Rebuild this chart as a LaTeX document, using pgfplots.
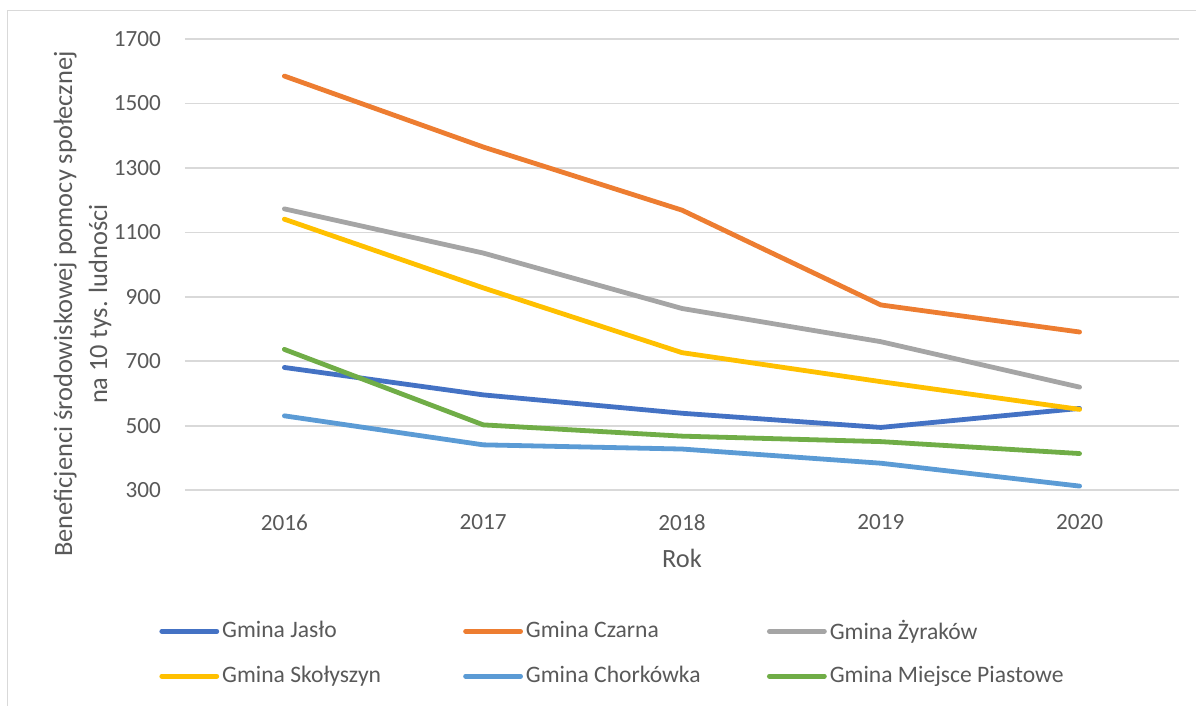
\documentclass[border=0pt]{standalone}
\usepackage{pgfplots}
\pgfplotsset{compat=1.18}
\usepackage{fontspec}
\setmainfont{Carlito}
\definecolor{cJaslo}{HTML}{4472C4}
\definecolor{cCzarna}{HTML}{ED7D31}
\definecolor{cZyr}{HTML}{A5A5A5}
\definecolor{cSkol}{HTML}{FFC000}
\definecolor{cChor}{HTML}{5B9BD5}
\definecolor{cMiej}{HTML}{70AD47}
\definecolor{gridc}{HTML}{D9D9D9}
\definecolor{txt}{HTML}{595959}
\newcommand{\legtxt}[1]{\makebox[122pt][l]{\rule[-2.5pt]{0pt}{10pt}\hspace{1.5pt}#1}}
\begin{document}
\begin{tikzpicture}
\path[use as bounding box] (0,0) rectangle (598pt,353pt);
\draw[gridc, line width=0.75pt] (3.75pt,0) -- (3.75pt,347.75pt) -- (598pt,347.75pt);
\begin{axis}[
  at={(92.5pt,107.85pt)}, anchor=south west,
  scale only axis, width=497pt, height=225.65pt,
  xmin=-0.5, xmax=4.5, ymin=300, ymax=1700,
  xtick={0,1,2,3,4}, xticklabels={2016,2017,2018,2019,2020},
  ytick={300,500,700,900,1100,1300,1500,1700},
  axis line style={draw=none},
  major tick length=0pt,
  ymajorgrids, grid style={gridc, line width=0.9pt},
  /pgf/number format/assume math mode=true,
  /pgf/number format/1000 sep={},
  tick label style={font=\fontsize{11.6}{13}\selectfont, text=txt},
  xticklabel style={yshift=-8.5pt},
  yticklabel style={xshift=-8.5pt},
  xlabel={Rok},
  xlabel style={at={(axis description cs:0.5,-0.150)}, anchor=center, font=\fontsize{13.2}{15}\selectfont, text=txt},
  ylabel={Beneficjenci środowiskowej pomocy społecznej\\na 10 tys. ludności},
  ylabel style={at={(axis description cs:-0.1031,0.4128)}, anchor=center, align=center, font=\fontsize{13.2}{17.5}\selectfont, text=txt},
  legend columns=3,
  legend style={at={(axis description cs:-0.0322,-0.3605)}, anchor=west, draw=none, fill=none,
    nodes={inner sep=0pt, font=\fontsize{11.8}{13}\selectfont, text=txt}, row sep=12pt, column sep=0pt},
  legend image code/.code={\draw[#1, line cap=round] (0pt,0pt) -- (27.5pt,0pt);},
  every axis plot/.append style={line width=2.4pt, line cap=round, line join=round},
]
\addplot[cJaslo] coordinates {(0,681) (1,596) (2,539) (3,495) (4,554)};
\addlegendentry{\legtxt{Gmina Jasło}}
\addplot[cCzarna] coordinates {(0,1585) (1,1365) (2,1169) (3,875) (4,791)};
\addlegendentry{\legtxt{Gmina Czarna}}
\addplot[cZyr] coordinates {(0,1173) (1,1036) (2,864) (3,761) (4,620)};
\addlegendentry{\legtxt{Gmina Żyraków}}
\addplot[cSkol] coordinates {(0,1141) (1,928) (2,727) (3,637) (4,551)};
\addlegendentry{\legtxt{Gmina Skołyszyn}}
\addplot[cChor] coordinates {(0,531) (1,441) (2,428) (3,384) (4,313)};
\addlegendentry{\legtxt{Gmina Chorkówka}}
\addplot[cMiej] coordinates {(0,737) (1,503) (2,468) (3,451) (4,414)};
\addlegendentry{\legtxt{Gmina Miejsce Piastowe}}
\end{axis}
\end{tikzpicture}
\end{document}
